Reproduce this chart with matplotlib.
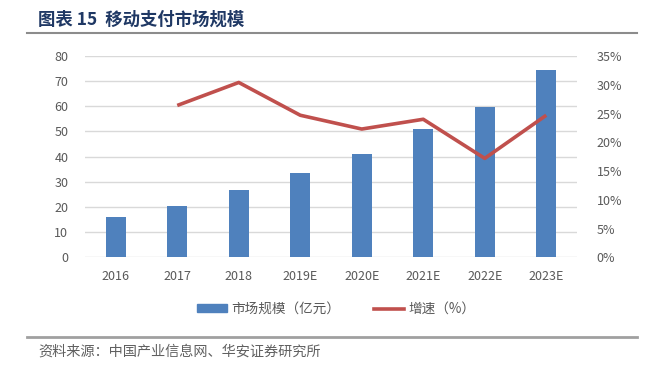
import numpy as np
import matplotlib.pyplot as plt
from matplotlib.lines import Line2D
from matplotlib.patches import Patch

plt.rcParams['font.family'] = ['Noto Sans CJK SC', 'DejaVu Sans']

years = ["2016", "2017", "2018", "2019E", "2020E", "2021E", "2022E", "2023E"]
market = [16.1, 20.5, 26.7, 33.5, 41.0, 50.9, 59.8, 74.6]
growth = [None, 26.4, 30.4, 24.7, 22.3, 24.0, 17.2, 24.7]

bar_color = "#4F81BD"
line_color = "#C0504D"
txt = "#595959"

fig = plt.figure(figsize=(6.49, 3.72), dpi=100)
W, H = 649, 372
ax = fig.add_axes([85 / W, 1 - 257.3 / H, (577 - 85) / W, (257.3 - 56) / H])

x = np.arange(len(years))
ax.bar(x, market, width=0.32, color=bar_color, zorder=3)
ax.set_xlim(-0.5, len(years) - 0.5)
ax.set_ylim(0, 80)
ax.set_yticks(range(0, 81, 10))
ax.grid(axis="y", color="#D9D9D9", linewidth=1, zorder=0)
for s in ax.spines.values():
    s.set_visible(False)
ax.tick_params(axis="both", length=0, colors=txt, labelsize=9)
ax.tick_params(axis="y", pad=12)
ax.tick_params(axis="x", pad=9)
ax.set_xticks(x)
ax.set_xticklabels(years)

ax2 = ax.twinx()
gx = [i for i, g in enumerate(growth) if g is not None]
gy = [g for g in growth if g is not None]
ax2.plot(gx, gy, color=line_color, linewidth=2.6, zorder=4, solid_capstyle="butt")
ax2.set_ylim(0, 35)
ax2.set_yticks(range(0, 36, 5))
ax2.set_yticklabels([f"{v}%" for v in range(0, 36, 5)])
for s in ax2.spines.values():
    s.set_visible(False)
ax2.tick_params(axis="y", length=0, colors=txt, labelsize=9, pad=14)

handles = [Patch(color=bar_color), Line2D([0], [0], color=line_color, linewidth=2.6)]
fig.legend(handles, ["市场规模（亿元）", "增速（%）"], loc="center",
           bbox_to_anchor=(336 / W, 1 - 309 / H), ncol=2, frameon=False,
           fontsize=9.8, labelcolor=txt, handlelength=2.2, handleheight=0.5,
           columnspacing=2.5, handletextpad=0.3)

# title and source
fig.text(38 / W, 1 - 20 / H, "图表 15  移动支付市场规模", fontsize=12.5, fontweight="bold",
         color="#1F3864", va="center", ha="left")
fig.add_artist(Line2D([27 / W, 637 / W], [1 - 33 / H, 1 - 33 / H], color="#8C8C8C", linewidth=1.5))
fig.add_artist(Line2D([27 / W, 637 / W], [1 - 337 / H, 1 - 337 / H], color="#A0A0A0", linewidth=2))
fig.text(38 / W, 1 - 352 / H, "资料来源：中国产业信息网、华安证券研究所", fontsize=10.2,
         color="#606060", va="center", ha="left")

fig.savefig("out.png", dpi=100)
